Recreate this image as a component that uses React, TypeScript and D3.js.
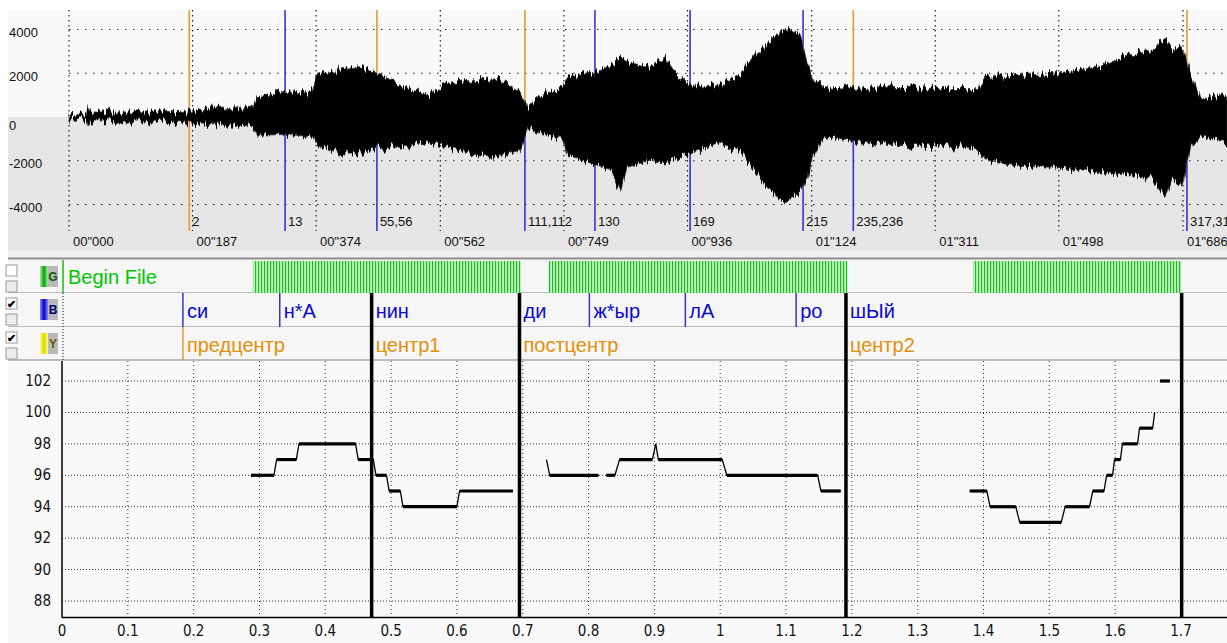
import * as d3 from 'd3';

const W = 1227;
const H = 643;

// waveform envelope: time (s), peak and trough amplitude
const waveT = [0, 0.026, 0.029, 0.033, 0.123, 0.183, 0.213, 0.278, 0.285, 0.33, 0.369, 0.375, 0.41, 0.44, 0.466, 0.501, 0.527, 0.546, 0.562, 0.611, 0.652, 0.663, 0.683, 0.695, 0.708, 0.748, 0.755, 0.789, 0.819, 0.834, 0.845, 0.879, 0.902, 0.914, 0.94, 0.985, 1.016, 1.041, 1.066, 1.084, 1.106, 1.117, 1.126, 1.144, 1.182, 1.258, 1.318, 1.376, 1.386, 1.439, 1.495, 1.56, 1.598, 1.636, 1.659, 1.669, 1.685, 1.698, 1.713, 1.736, 1.753];
const waveMax = [100, 100, 540, 230, 230, 270, 450, 450, 930, 1150, 1150, 1900, 2200, 2300, 2000, 1500, 1200, 1000, 1400, 1700, 1750, 1500, 1100, 450, 900, 1400, 1830, 2050, 2300, 2750, 2500, 2300, 2700, 2200, 1400, 1460, 2000, 2900, 3650, 4000, 3830, 2500, 1800, 1380, 1300, 1350, 1300, 1300, 1870, 1900, 2000, 2300, 2800, 3000, 3600, 3100, 3150, 2000, 800, 1000, 1000];
const waveMin = [-100, -100, -450, -230, -230, -270, -350, -400, -830, -800, -900, -1300, -1650, -1650, -1430, -1430, -1300, -1200, -1300, -1700, -1830, -1700, -1500, -500, -700, -1000, -1800, -2100, -2400, -3400, -2300, -1980, -2100, -1900, -1650, -1200, -1600, -2600, -3500, -3950, -3400, -2800, -1800, -900, -1100, -1300, -1300, -1500, -2000, -2250, -2300, -2500, -2650, -2700, -3650, -2800, -3180, -1200, -900, -1000, -1300];

const waveYTicks = [4000, 2000, 0, -2000, -4000];
const waveTimeTicks = [0, 0.187, 0.374, 0.562, 0.749, 0.936, 1.124, 1.311, 1.498, 1.686];
const waveTimeLabels = ['00"000', '00"187', '00"374', '00"562', '00"749', '00"936', '01"124', '01"311', '01"498', '01"686'];

// markers over the waveform: time, kind (o = orange, b = blue, ob = orange above / blue below), label
const markerT = [0.182, 0.327, 0.466, 0.69, 0.796, 0.94, 1.111, 1.187, 1.692];
const markerKind = ['o', 'b', 'ob', 'ob', 'b', 'b', 'b', 'ob', 'ob'];
const markerLabel = ['2', '13', '55,56', '111,112', '130', '169', '215', '235,236', '317,31'];

// tier boundaries (time on the pitch axis)
const boundT = [0.1837, 0.3308, 0.4704, 0.695, 0.8012, 0.947, 1.1153, 1.191, 1.701];
const boundThick = [false, false, true, true, false, false, false, true, true];
const syllables = ['си', 'н*А', 'нин', 'ди', 'ж*ыр', 'лА', 'ро', 'шЫй', ''];
const zoneT = [0.1837, 0.4704, 0.695, 1.191];
const zones = ['предцентр', 'центр1', 'постцентр', 'центр2'];
const voicedStart = [0.29, 0.739, 1.384];
const voicedEnd = [0.697, 1.193, 1.701];

// pitch contour, runs of [start, end, semitone value]
const pitchSegments: [number, number, number][][] = [
  [[0.287, 0.322, 96], [0.326, 0.356, 97], [0.36, 0.446, 98], [0.45, 0.473, 97], [0.477, 0.493, 96], [0.497, 0.514, 95], [0.518, 0.6, 94], [0.604, 0.685, 95]],
  [[0.736, 0.736, 97], [0.741, 0.815, 96]],
  [[0.827, 0.84, 96], [0.847, 0.897, 97], [0.902, 0.902, 98], [0.906, 1.003, 97], [1.01, 1.148, 96], [1.153, 1.183, 95]],
  [[1.379, 1.405, 95], [1.41, 1.449, 94], [1.455, 1.518, 93], [1.524, 1.561, 94], [1.566, 1.583, 95], [1.587, 1.596, 96], [1.599, 1.608, 97], [1.611, 1.634, 98], [1.637, 1.657, 99], [1.66, 1.66, 100]],
  [[1.668, 1.683, 102]],
];
const pitchYTicks = [88, 90, 92, 94, 96, 98, 100, 102];
const pitchXTicks = [0, 0.1, 0.2, 0.3, 0.4, 0.5, 0.6, 0.7, 0.8, 0.9, 1, 1.1, 1.2, 1.3, 1.4, 1.5, 1.6, 1.7];

const sans = "'Liberation Sans', Arial, sans-serif";
const narrow = "'Liberation Sans Narrow', 'DejaVu Sans Condensed', sans-serif";
const ORANGE = '#e39a2e';
const BLUE = '#3434d4';

const rows = [
  { top: 260, bottom: 293, letter: 'G', c1: '#0a9a0a', c2: '#9cf59c', ink: '#0a5a0a', check: false },
  { top: 293, bottom: 327, letter: 'B', c1: '#0000c8', c2: '#8a8aff', ink: '#00006a', check: true },
  { top: 327, bottom: 360, letter: 'Y', c1: '#d8d800', c2: '#ffff90', ink: '#5a5a00', check: true },
];

export default function App() {
  const xw = d3.scaleLinear().domain([0, 1.686]).range([69, 1183]);
  const yw = d3.scaleLinear().domain([0, 4000]).range([117, 29.5]);
  const x = d3.scaleLinear().domain([0, 1.7]).range([62, 1181]);
  const y = d3.scaleLinear().domain([88, 102]).range([601, 381]);

  const idx = d3.range(waveT.length);
  const wavePath = d3
    .area<number>()
    .x((i) => xw(waveT[i]))
    .y0((i) => yw(waveMin[i]))
    .y1((i) => yw(waveMax[i]))(idx);

  const line = d3
    .line<[number, number]>()
    .x((d) => x(d[0]))
    .y((d) => y(d[1]));

  return (
    <svg width={W} height={H} style={{ position: 'absolute', left: 0, top: 0, display: 'block', background: '#fff' }}>
      <defs>
        <pattern id="voiced" width="3" height="40" patternUnits="userSpaceOnUse">
          <rect width="3" height="40" fill="#c9f3c9" />
          <rect width="1.2" height="40" fill="#12c412" />
        </pattern>
        {rows.map((r) => (
          <linearGradient key={r.letter} id={'g' + r.letter} x1="0" x2="1" y1="0" y2="0">
            <stop offset="0" stopColor={r.c2} />
            <stop offset="0.5" stopColor={r.c1} />
            <stop offset="1" stopColor={r.c2} />
          </linearGradient>
        ))}
        {/* roughens the envelope edges so it reads like a dense waveform */}
        <filter id="spiky" x="-2%" y="-20%" width="104%" height="140%">
          <feTurbulence type="fractalNoise" baseFrequency="0.45 0.03" numOctaves={2} seed={3} result="noise" />
          <feColorMatrix in="noise" type="matrix" values="1 0 0 0 0  0 0 0 0 0.5  0 0 0 0 0  0 0 0 0 1" result="map" />
          <feDisplacementMap in="SourceGraphic" in2="map" scale={16} xChannelSelector="G" yChannelSelector="R" />
        </filter>
      </defs>

      {/* waveform panel */}
      <rect x={8} y={10} width={W - 8} height={107} fill="#f9f9f9" />
      <rect x={8} y={117} width={W - 8} height={133} fill="#e6e6e6" />
      {waveYTicks
        .filter((v) => v !== 0)
        .map((v) => (
          <line key={v} x1={69} x2={W} y1={yw(v)} y2={yw(v)} stroke="#222" strokeWidth={1.2} strokeDasharray="1.5 6.5" />
        ))}
      {waveTimeTicks.map((t) => (
        <line key={t} x1={xw(t)} x2={xw(t)} y1={10} y2={231} stroke="#222" strokeWidth={1.2} strokeDasharray="1.5 3.5" />
      ))}
      {waveYTicks.map((v) => (
        <text key={v} x={9} y={yw(v) + (v === 0 ? 8 : 3)} fontFamily={sans} fontSize={13} fill="#111" dominantBaseline="central">
          {v}
        </text>
      ))}
      {waveTimeLabels.map((s, i) => (
        <text key={s} x={xw(waveTimeTicks[i]) + 4} y={241} fontFamily={sans} fontSize={13} fill="#111" dominantBaseline="central">
          {s}
        </text>
      ))}
      {markerT.map((t, i) => {
        const k = markerKind[i];
        const xx = xw(t);
        return (
          <g key={t}>
            {k === 'o' && <line x1={xx} x2={xx} y1={10} y2={231} stroke={ORANGE} strokeWidth={1.6} />}
            {k === 'b' && <line x1={xx} x2={xx} y1={10} y2={231} stroke={BLUE} strokeWidth={1.6} />}
            {k === 'ob' && (
              <>
                <line x1={xx} x2={xx} y1={10} y2={117} stroke={ORANGE} strokeWidth={1.6} />
                <line x1={xx} x2={xx} y1={117} y2={231} stroke={BLUE} strokeWidth={1.6} />
              </>
            )}
            <text x={xx + 3} y={221} fontFamily={sans} fontSize={13} fill="#111" dominantBaseline="central">
              {markerLabel[i]}
            </text>
          </g>
        );
      })}
      <g filter="url(#spiky)">
        <path d={wavePath ?? ''} fill="#000" stroke="#333" strokeWidth={0.8} />
      </g>

      {/* separator */}
      <rect x={8} y={250} width={W - 8} height={8} fill="#efefef" />
      <line x1={8} x2={W} y1={258.5} y2={258.5} stroke="#8c8c8c" strokeWidth={2} />

      {/* tiers */}
      {rows.map((r) => (
        <g key={r.letter}>
          <rect x={8} y={r.top} width={W - 8} height={r.bottom - r.top} fill="#f6f6f6" />
          <line x1={8} x2={W} y1={r.bottom} y2={r.bottom} stroke="#a8a8a8" strokeWidth={1.5} />
          <rect x={6} y={r.top + 5} width={11} height={11} fill="#fff" stroke="#9a9a9a" />
          <rect x={6} y={r.top + 21} width={11} height={11} fill="#ececec" stroke="#9a9a9a" />
          {r.check && (
            <text x={11} y={r.top + 11} fontFamily={sans} fontSize={11} fontWeight="bold" fill="#000" textAnchor="middle" dominantBaseline="central">
              ✔
            </text>
          )}
          <rect x={40} y={r.top + 6} width={8} height={21} fill={`url(#g${r.letter})`} />
          <rect x={48} y={r.top + 6} width={10} height={21} fill="#b9b9b9" />
          <text x={53} y={r.top + 17} fontFamily={sans} fontSize={12} fontWeight="bold" fill={r.ink} textAnchor="middle" dominantBaseline="central">
            {r.letter}
          </text>
        </g>
      ))}
      {voicedStart.map((t, i) => (
        <rect key={t} x={x(t)} y={261} width={x(voicedEnd[i]) - x(t)} height={32} fill="url(#voiced)" />
      ))}
      <line x1={63} x2={63} y1={260} y2={293} stroke="#10c010" strokeWidth={1.5} />
      <text x={68} y={277} fontFamily={sans} fontSize={20} fill="#00c800" dominantBaseline="central">
        Begin File
      </text>
      <line x1={63} x2={63} y1={293} y2={360} stroke="#111" strokeDasharray="1 2" />
      {boundT.map((t, i) =>
        boundThick[i] ? null : <line key={t} x1={x(t)} x2={x(t)} y1={293} y2={327} stroke={BLUE} strokeWidth={1.5} />
      )}
      <line x1={x(zoneT[0])} x2={x(zoneT[0])} y1={327} y2={360} stroke={ORANGE} strokeWidth={1.5} />
      {syllables.map((s, i) =>
        s ? (
          <text key={i} x={x(boundT[i]) + 4} y={311} fontFamily={sans} fontSize={20} fill="#0a0ad0" dominantBaseline="central">
            {s}
          </text>
        ) : null
      )}
      {zones.map((s, i) => (
        <text key={s} x={x(zoneT[i]) + 4} y={345} fontFamily={sans} fontSize={20} fill="#e3900c" dominantBaseline="central">
          {s}
        </text>
      ))}

      {/* pitch chart */}
      <rect x={8} y={361} width={W - 8} height={H - 361} fill="#f9f9f9" />
      {pitchYTicks.map((v) => (
        <g key={v}>
          <line x1={62} x2={W} y1={y(v)} y2={y(v)} stroke="#333" strokeDasharray="1 2" />
          <text x={51} y={y(v)} fontFamily={narrow} fontSize={15} fill="#111" textAnchor="end" dominantBaseline="central">
            {v}
          </text>
        </g>
      ))}
      {pitchXTicks.map((t) => (
        <g key={t}>
          {t > 0 && <line x1={x(t)} x2={x(t)} y1={361} y2={617} stroke="#333" strokeDasharray="1 3" />}
          <text x={x(t)} y={631} fontFamily={narrow} fontSize={15} fill="#111" textAnchor="middle" dominantBaseline="central">
            {String(t)}
          </text>
        </g>
      ))}
      <line x1={62} x2={62} y1={361} y2={617.5} stroke="#000" strokeWidth={1.5} />
      <line x1={62} x2={W} y1={617.5} y2={617.5} stroke="#000" strokeWidth={1.5} />

      {pitchSegments.map((seg, i) => {
        const pts: [number, number][] = [];
        seg.forEach((r) => {
          pts.push([r[0], r[2]]);
          pts.push([r[1], r[2]]);
        });
        return (
          <g key={i}>
            <path d={line(pts) ?? ''} fill="none" stroke="#000" strokeWidth={1.3} />
            {seg.map((r, j) =>
              r[1] > r[0] ? (
                <line key={j} x1={x(r[0])} x2={x(r[1])} y1={y(r[2])} y2={y(r[2])} stroke="#000" strokeWidth={3.2} />
              ) : null
            )}
          </g>
        );
      })}

      {boundT.map((t, i) =>
        boundThick[i] ? <line key={t} x1={x(t)} x2={x(t)} y1={293} y2={617} stroke="#000" strokeWidth={3.5} /> : null
      )}
    </svg>
  );
}
